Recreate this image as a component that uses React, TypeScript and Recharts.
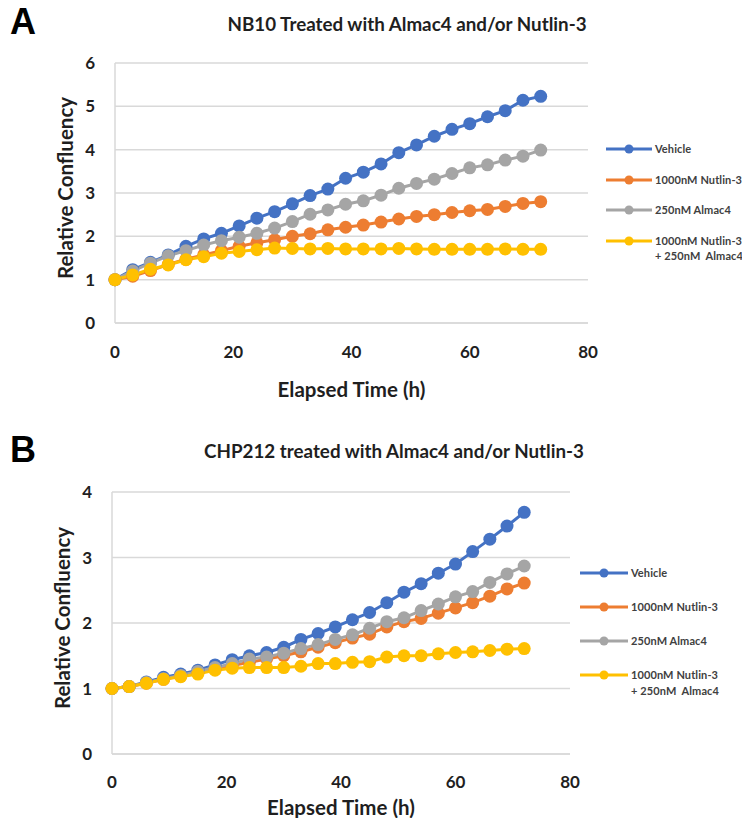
import { LineChart, Line, XAxis, YAxis, CartesianGrid, Legend, Label } from 'recharts'

// elapsed time (h)
const hours = [0, 3, 6, 9, 12, 15, 18, 21, 24, 27, 30, 33, 36, 39, 42, 45, 48, 51, 54, 57, 60, 63, 66, 69, 72]

// panel A - NB10
const nb10Vehicle = [1.0, 1.23, 1.4, 1.57, 1.77, 1.94, 2.07, 2.24, 2.42, 2.57, 2.75, 2.94, 3.09, 3.34, 3.48, 3.67, 3.93, 4.11, 4.31, 4.47, 4.6, 4.76, 4.9, 5.14, 5.23]
const nb10Nutlin = [1.0, 1.08, 1.21, 1.35, 1.47, 1.57, 1.67, 1.77, 1.85, 1.92, 2.0, 2.06, 2.15, 2.21, 2.26, 2.33, 2.4, 2.46, 2.5, 2.55, 2.59, 2.62, 2.69, 2.76, 2.8]
const nb10Almac = [1.0, 1.2, 1.38, 1.55, 1.67, 1.8, 1.9, 1.98, 2.07, 2.19, 2.34, 2.51, 2.61, 2.74, 2.82, 2.95, 3.11, 3.22, 3.32, 3.45, 3.58, 3.65, 3.76, 3.85, 3.99]
const nb10Combo = [1.0, 1.11, 1.24, 1.34, 1.46, 1.53, 1.61, 1.65, 1.69, 1.73, 1.72, 1.71, 1.72, 1.71, 1.71, 1.71, 1.72, 1.71, 1.7, 1.7, 1.7, 1.7, 1.71, 1.7, 1.7]

// panel B - CHP212
const chpVehicle = [1.0, 1.03, 1.1, 1.17, 1.22, 1.28, 1.36, 1.44, 1.5, 1.55, 1.63, 1.75, 1.84, 1.94, 2.05, 2.16, 2.31, 2.47, 2.6, 2.76, 2.9, 3.09, 3.28, 3.48, 3.69]
const chpNutlin = [1.0, 1.03, 1.08, 1.14, 1.19, 1.24, 1.29, 1.35, 1.4, 1.45, 1.5, 1.56, 1.63, 1.7, 1.77, 1.83, 1.94, 2.02, 2.07, 2.15, 2.23, 2.31, 2.41, 2.52, 2.61]
const chpAlmac = [1.0, 1.03, 1.09, 1.15, 1.2, 1.26, 1.32, 1.38, 1.45, 1.48, 1.54, 1.61, 1.67, 1.75, 1.82, 1.92, 2.02, 2.08, 2.19, 2.29, 2.4, 2.48, 2.62, 2.75, 2.87]
const chpCombo = [1.0, 1.03, 1.08, 1.14, 1.18, 1.22, 1.28, 1.31, 1.32, 1.32, 1.32, 1.34, 1.38, 1.38, 1.4, 1.41, 1.48, 1.5, 1.5, 1.53, 1.55, 1.56, 1.58, 1.6, 1.61]

const xTicks = [0, 20, 40, 60, 80]
const yTicksA = [0, 1, 2, 3, 4, 5, 6]
const yTicksB = [0, 1, 2, 3, 4]

const series = [
  { key: 'vehicle', color: '#4472C4', label: ['Vehicle'] },
  { key: 'nutlin', color: '#ED7D31', label: ['1000nM Nutlin-3'] },
  { key: 'almac', color: '#A5A5A5', label: ['250nM Almac4'] },
  { key: 'combo', color: '#FFC000', label: ['1000nM Nutlin-3', '+ 250nM  Almac4'] },
]

const toRows = (v: number[], n: number[], a: number[], c: number[]) =>
  hours.map((h, i) => ({ h, vehicle: v[i], nutlin: n[i], almac: a[i], combo: c[i] }))

const dataA = toRows(nb10Vehicle, nb10Nutlin, nb10Almac, nb10Combo)
const dataB = toRows(chpVehicle, chpNutlin, chpAlmac, chpCombo)

const FONT = 'Lato, "Open Sans", sans-serif'
const INK = '#1f1f1f'
const GRID = '#d9d9d9'
const AXIS_LABEL = { fontFamily: FONT, fontSize: 20.5, fontWeight: 700, fill: INK }
const TICK = { fontFamily: FONT, fontSize: 17, fontWeight: 700, fill: INK }

// keep the legend in series order (recharts would sort it by name)
function legendContent(rowGap: number, lineW: number) {
  return () => (
    <div style={{ fontFamily: FONT, fontSize: 11, letterSpacing: 0.1, fontWeight: 700, color: '#404040', whiteSpace: 'nowrap' }}>
      {series.map((s) => (
        <div key={s.key} style={{ display: 'flex', alignItems: 'flex-start', height: rowGap }}>
          <svg width={lineW} height={14} style={{ flexShrink: 0 }}>
            <line x1={0} y1={7} x2={lineW} y2={7} stroke={s.color} strokeWidth={3} />
            <circle cx={lineW / 2} cy={7} r={4.5} fill={s.color} />
          </svg>
          <div style={{ marginLeft: 3, lineHeight: '15.5px', marginTop: -1 }}>
            {s.label.map((t) => (
              <div key={t} style={{ whiteSpace: 'pre' }}>{t}</div>
            ))}
          </div>
        </div>
      ))}
    </div>
  )
}

type PanelProps = {
  top: number
  height: number
  letter: string
  title: string
  titleX: number
  titleY: number
  data: any[]
  yMax: number
  yTicks: number[]
  margin: { top: number; right: number; left: number; bottom: number }
  legendLeft: number
  legendTop: number
  legendGap: number
  legendLine: number
  xLabelDy: number
  xTickMargin: number
}

function Panel(p: PanelProps) {
  return (
    <div style={{ position: 'absolute', left: 0, top: p.top, width: 750, height: p.height }}>
      <div style={{ position: 'absolute', left: 10, top: p.top === 0 ? 2 : 0, fontFamily: '"Liberation Sans", Arial, sans-serif', fontWeight: 700, fontSize: 36, color: '#000', lineHeight: '40px' }}>
        {p.letter}
      </div>
      <div style={{ position: 'absolute', left: p.titleX - 250, width: 500, top: p.titleY - 12, textAlign: 'center', fontFamily: FONT, fontWeight: 700, fontSize: 18.8, color: INK, lineHeight: '24px' }}>
        {p.title}
      </div>
      <div style={{ position: 'absolute', left: 0, top: 0 }}>
        <LineChart width={750} height={p.height} data={p.data} margin={p.margin}>
          <CartesianGrid vertical={false} stroke={GRID} strokeWidth={1.5} />
          <XAxis
            dataKey="h"
            type="number"
            domain={[0, 80]}
            ticks={xTicks}
            height={72}
            axisLine={{ stroke: GRID, strokeWidth: 1.5 }}
            tickLine={false}
            tickSize={0}
            tickMargin={p.xTickMargin}
            tick={TICK}
          >
            <Label value="Elapsed Time (h)" position="center" dy={p.xLabelDy} style={AXIS_LABEL} />
          </XAxis>
          <YAxis
            type="number"
            domain={[0, p.yMax]}
            ticks={p.yTicks}
            width={70}
            axisLine={{ stroke: GRID, strokeWidth: 1.5 }}
            tickLine={false}
            tickSize={0}
            tickMargin={20}
            tick={TICK}
          >
            <Label value="Relative Confluency" position="center" angle={-90} dx={-14} dy={-5} style={AXIS_LABEL} />
          </YAxis>
          <Legend
            layout="horizontal"
            align="center"
            verticalAlign="middle"
            content={legendContent(p.legendGap, p.legendLine)}
            wrapperStyle={{ left: p.legendLeft, top: p.legendTop, width: 140, height: 'auto' }}
          />
          {series.map((s) => (
            <Line
              key={s.key}
              dataKey={s.key}
              stroke={s.color}
              strokeWidth={3}
              dot={{ r: 6.5, fill: s.color, stroke: s.color, strokeWidth: 0 }}
              activeDot={false}
              isAnimationActive={false}
            />
          ))}
        </LineChart>
      </div>
    </div>
  )
}

export default function App() {
  return (
    <div style={{ position: 'relative', width: 750, height: 826, margin: -8, background: '#fff' }}>
      <Panel
        top={0}
        height={410}
        letter="A"
        title="NB10 Treated with Almac4 and/or Nutlin-3"
        titleX={407}
        titleY={24}
        data={dataA}
        yMax={6}
        yTicks={yTicksA}
        margin={{ top: 63, right: 162, left: 45, bottom: 15 }}
        legendLeft={606}
        legendTop={142}
        legendGap={30.5}
        legendLine={46}
        xLabelDy={31}
        xTickMargin={23}
      />
      <Panel
        top={430}
        height={396}
        letter="B"
        title="CHP212 treated with Almac4 and/or Nutlin-3"
        titleX={394}
        titleY={21}
        data={dataB}
        yMax={4}
        yTicks={yTicksB}
        margin={{ top: 62, right: 180, left: 42, bottom: 0 }}
        legendLeft={580}
        legendTop={136}
        legendGap={34}
        legendLine={48}
        xLabelDy={18}
        xTickMargin={22}
      />
    </div>
  )
}
